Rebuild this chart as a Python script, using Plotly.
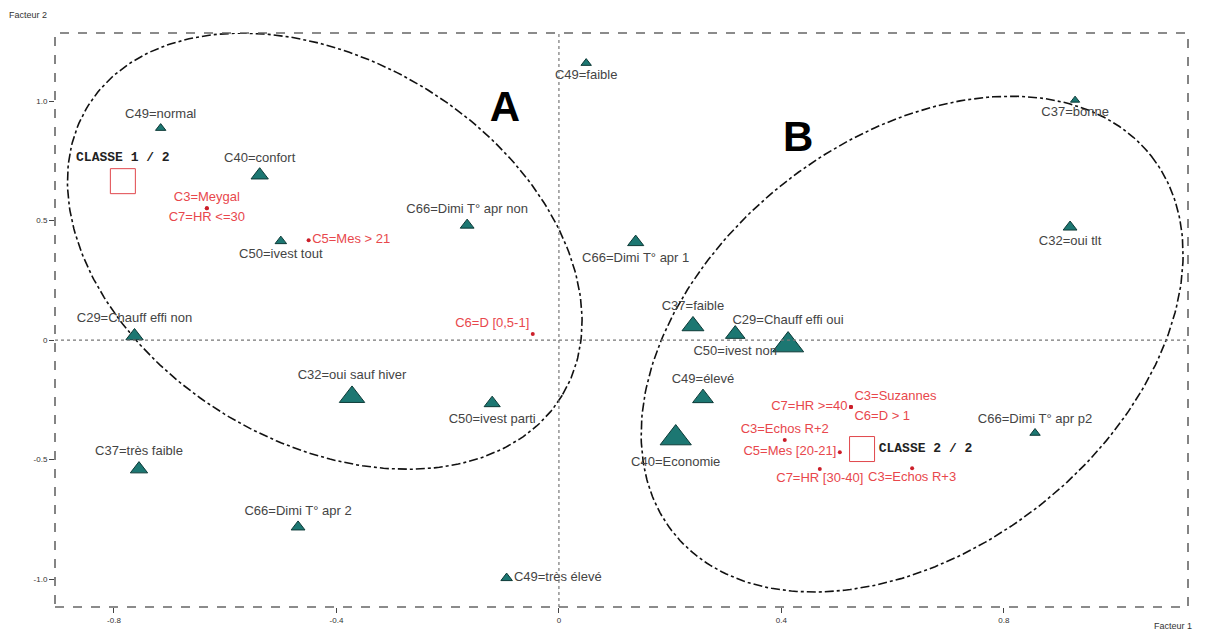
import numpy as np
import plotly.graph_objects as go

# modalities (active variables) - teal triangles
tri_labels = [
    "C49=normal", "C40=confort", "C50=ivest tout", "C66=Dimi T° apr non",
    "C49=faible", "C66=Dimi T° apr 1", "C37=bonne", "C32=oui tlt",
    "C29=Chauff effi non", "C37=faible", "C50=ivest non", "C29=Chauff effi oui",
    "C49=élevé", "C40=Economie", "C32=oui sauf hiver", "C50=ivest parti",
    "C37=très faible", "C66=Dimi T° apr 2", "C49=très élevé", "C66=Dimi T° apr p2",
]
tri_f1 = [-0.716, -0.538, -0.500, -0.165, 0.049, 0.138, 0.928, 0.919,
          -0.763, 0.241, 0.317, 0.412, 0.259, 0.210, -0.372, -0.120,
          -0.755, -0.469, -0.094, 0.856]
tri_f2 = [0.887, 0.690, 0.414, 0.481, 1.159, 0.410, 1.004, 0.473,
          0.017, 0.059, 0.025, -0.021, -0.243, -0.410, -0.238, -0.264,
          -0.540, -0.782, -0.996, -0.389]
tri_weight = [9, 15, 10, 12, 9, 14, 8, 12, 15, 19, 17, 27, 18, 27, 22, 14, 15, 12, 10, 9]
tri_pos = ["top center", "top center", "bottom center", "top center",
           "bottom center", "bottom center", "bottom center", "bottom center",
           "top center", "top center", "bottom center", "top center",
           "top center", "bottom center", "top center", "bottom center",
           "top center", "top center", "middle right", "top center"]

# illustrative variables - red dots
red_labels = ["C3=Meygal", "C7=HR <=30", "C5=Mes > 21", "C6=D [0,5-1]",
              "C3=Suzannes", "C7=HR >=40", "C6=D > 1", "C3=Echos R+2",
              "C5=Mes [20-21]", "C7=HR [30-40]", "C3=Echos R+3"]
red_f1 = [-0.633, -0.633, -0.450, -0.047, 0.525, 0.525, 0.525, 0.406, 0.505, 0.469, 0.635]
red_f2 = [0.552, 0.552, 0.418, 0.025, -0.280, -0.280, -0.280, -0.418, -0.469, -0.540, -0.536]
red_pos = ["top center", "bottom center", "middle right", "top left",
           "top right", "middle left", "bottom right", "top center",
           "middle left", "bottom center", "bottom center"]

# class centres
class_labels = ["CLASSE 1 / 2", "CLASSE 2 / 2"]
class_f1 = [-0.784, 0.545]
class_f2 = [0.665, -0.456]
class_pos = ["top center", "middle right"]

# ellipses: centre, half-axis vectors (data units)
ell_A = dict(c=(-0.421, 0.372), u=(0.427, -0.603), v=(-0.178, -0.685))
ell_B = dict(c=(0.635, -0.017), u=(0.430, 0.787), v=(0.229, -0.676))
group_labels = ["A", "B"]
group_f1 = [-0.097, 0.430]
group_f2 = [0.962, 0.837]

xticks = [-0.8, -0.4, 0, 0.4, 0.8]
xtick_text = ["-0.8", "-0.4", "0", "0.4", "0.8"]
yticks = [-1.0, -0.5, 0, 0.5, 1.0]
ytick_text = ["-1.0", "-0.5", "0", "0.5", "1.0"]

fig = go.Figure()

t = np.linspace(0, 2 * np.pi, 300)
for e in (ell_A, ell_B):
    ex = e["c"][0] + e["u"][0] * np.cos(t) + e["v"][0] * np.sin(t)
    ey = e["c"][1] + e["u"][1] * np.cos(t) + e["v"][1] * np.sin(t)
    fig.add_trace(go.Scatter(x=ex, y=ey, mode="lines",
                             line=dict(color="#111", width=1.6, dash="dashdot"),
                             hoverinfo="skip", showlegend=False))

fig.add_trace(go.Scatter(
    x=tri_f1, y=tri_f2, mode="markers+text", text=tri_labels, textposition=tri_pos,
    marker=dict(symbol="triangle-up", size=tri_weight, color="#1c7772", opacity=1,
                line=dict(color="#0d3a37", width=1)),
    textfont=dict(family="Liberation Sans, Arial", size=13, color="#444"),
    showlegend=False))

fig.add_trace(go.Scatter(
    x=red_f1, y=red_f2, mode="markers+text", text=red_labels, textposition=red_pos,
    marker=dict(symbol="circle", size=4, color="#cc1f2a", opacity=1),
    textfont=dict(family="Liberation Sans, Arial", size=13, color="#e8474c"),
    showlegend=False))

fig.add_trace(go.Scatter(
    x=class_f1, y=class_f2, mode="markers+text", text=class_labels, textposition=class_pos,
    marker=dict(symbol="square-open", size=25, color="#e0474c", opacity=1, line=dict(width=1)),
    textfont=dict(family="Liberation Mono, Courier New", size=13, color="#222", weight="bold"),
    showlegend=False))

fig.add_trace(go.Scatter(
    x=group_f1, y=group_f2, mode="text", text=group_labels,
    textfont=dict(family="Liberation Sans, Arial", size=42, color="#000", weight="bold"),
    showlegend=False))

# origin lines
fig.add_shape(type="line", xref="x", yref="paper", x0=0, x1=0, y0=0, y1=1,
              line=dict(color="#777", width=1.2, dash="dot"))
fig.add_shape(type="line", xref="paper", yref="y", x0=0, x1=1, y0=0, y1=0,
              line=dict(color="#777", width=1.2, dash="dot"))
# dashed frame
fig.add_shape(type="rect", xref="paper", yref="paper", x0=0, x1=1, y0=0, y1=1,
              line=dict(color="#666", width=1.6, dash="dash"))

fig.add_annotation(text="Facteur 2", xref="paper", yref="paper", x=-0.042, y=1.031,
                   xanchor="left", yanchor="middle", showarrow=False,
                   font=dict(family="Liberation Sans, Arial", size=9, color="#333"))
fig.add_annotation(text="Facteur 1", xref="paper", yref="paper", x=0.968, y=-0.046,
                   xanchor="left", yanchor="bottom", showarrow=False,
                   font=dict(family="Liberation Sans, Arial", size=9, color="#333"))

fig.update_xaxes(range=[-0.906, 1.131], tickvals=xticks, ticktext=xtick_text,
                 showgrid=False, zeroline=False, showline=False,
                 ticks="outside", ticklen=5, tickcolor="#444",
                 tickfont=dict(family="Liberation Sans, Arial", size=8, color="#333"))
fig.update_yaxes(range=[-1.117, 1.285], tickvals=yticks, ticktext=ytick_text,
                 showgrid=False, zeroline=False, showline=False,
                 ticks="outside", ticklen=5, tickcolor="#444",
                 tickfont=dict(family="Liberation Sans, Arial", size=8, color="#333"))

# page body has an 8px margin, so the figure is 8px smaller each way
fig.update_layout(width=1200, height=628, plot_bgcolor="white", paper_bgcolor="white",
                  margin=dict(l=47, r=20, t=25, b=29), showlegend=False)

fig.write_html("out.html")
